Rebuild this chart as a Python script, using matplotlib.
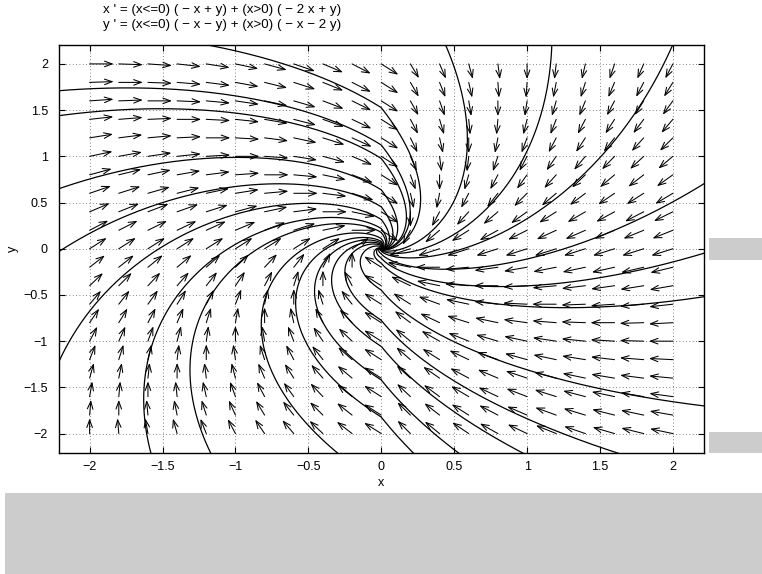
import numpy as np
import matplotlib.pyplot as plt
from matplotlib.patches import Rectangle

plt.rcParams['font.family'] = ['Liberation Sans', 'DejaVu Sans']

# window and direction-field grid
XLIM = (-2.21, 2.21)
YLIM = (-2.21, 2.21)
GRID_X = np.linspace(-2, 2, 21)
GRID_Y = np.linspace(-2, 2, 21)
XTICKS = [-2, -1.5, -1, -0.5, 0, 0.5, 1, 1.5, 2]
YTICKS = [-2, -1.5, -1, -0.5, 0, 0.5, 1, 1.5, 2]

# where each solution curve enters the window
LEFT_Y = [1.71, 1.44, 0.65, -0.03, -1.22]
TOP_X = [-1.21, 0.44, 1.17, 2.0]
RIGHT_Y = [0.70, -0.05, -0.52, -1.70]
BOTTOM_X = [-1.58, -1.17, -0.30, 0.22, 0.53, 0.97, 1.62]

TITLE_1 = "x ' = (x<=0) ( \u2212 x + y) + (x>0) ( \u2212 2 x + y)"
TITLE_2 = "y ' = (x<=0) ( \u2212 x \u2212 y) + (x>0) ( \u2212 x \u2212 2 y)"


def field(x, y):
    left = x <= 0
    u = np.where(left, -x + y, -2 * x + y)
    v = np.where(left, -x - y, -x - 2 * y)
    return u, v


def rk4(p, dt, n):
    pts = [p]
    for _ in range(n):
        x, y = p
        k1 = np.array(field(x, y))
        k2 = np.array(field(*(p + dt / 2 * k1)))
        k3 = np.array(field(*(p + dt / 2 * k2)))
        k4 = np.array(field(*(p + dt * k3)))
        p = p + dt / 6 * (k1 + 2 * k2 + 2 * k3 + k4)
        pts.append(p)
        if np.hypot(*p) < 1e-3:
            break
    return np.array(pts)


def trajectory(x0, y0):
    p0 = np.array([x0, y0], dtype=float)
    back = rk4(p0, -0.004, 40)[::-1]
    fwd = rk4(p0, 0.004, 6000)
    return np.vstack([back, fwd[1:]])


starts = ([(XLIM[0], y) for y in LEFT_Y] + [(x, YLIM[1]) for x in TOP_X]
          + [(XLIM[1], y) for y in RIGHT_Y] + [(x, YLIM[0]) for x in BOTTOM_X])

fig = plt.figure(figsize=(7.62, 5.74), dpi=100)
ax = fig.add_axes([59 / 762, 1 - 453 / 574, 644.5 / 762, 408.5 / 574])

# direction field: equal-length arrows from each grid point
L = 0.165
for gx in GRID_X:
    for gy in GRID_Y:
        u, v = field(gx, gy)
        n = np.hypot(u, v)
        if n == 0:
            continue
        ax.annotate('', xy=(gx + L * u / n, gy + L * v / n), xytext=(gx, gy),
                    arrowprops=dict(arrowstyle='->,head_length=0.55,head_width=0.2',
                                    lw=0.75, color='black', shrinkA=0, shrinkB=0,
                                    mutation_scale=10))

for x0, y0 in starts:
    tr = trajectory(x0, y0)
    ax.plot(tr[:, 0], tr[:, 1], color='black', lw=0.9)

ax.set_xlim(XLIM)
ax.set_ylim(YLIM)
ax.set_xticks(XTICKS)
ax.set_yticks(YTICKS)
ax.set_xticklabels([f'{t:g}'.replace('-', '\u2212') for t in XTICKS])
ax.set_yticklabels([f'{t:g}'.replace('-', '\u2212') for t in YTICKS])
ax.tick_params(direction='in', length=4, width=0.8, top=True, right=True,
               labelsize=9)
ax.tick_params(axis='x', pad=5.5)
ax.tick_params(axis='y', pad=8)
ax.grid(True, color='0.35', linestyle=(0, (1, 3)), lw=0.6)
for s in ax.spines.values():
    s.set_linewidth(1.0)
ax.set_xlabel('x', fontsize=9, labelpad=3)
ax.set_ylabel('y', fontsize=9, labelpad=3)

fig.text(222 / 762, 1 - 10 / 574, TITLE_1, ha='center', va='center', fontsize=9.6)
fig.text(222 / 762, 1 - 25 / 574, TITLE_2, ha='center', va='center', fontsize=9.6)

# grey panels around the plot window
for (x, y, w, h) in [(5, 493, 757, 81), (709, 238, 53, 22), (709, 432, 53, 21)]:
    fig.add_artist(Rectangle((x / 762, 1 - (y + h) / 574), w / 762, h / 574,
                             transform=fig.transFigure, facecolor='#cccccc',
                             edgecolor='none'))

fig.savefig('out.png', dpi=100)
